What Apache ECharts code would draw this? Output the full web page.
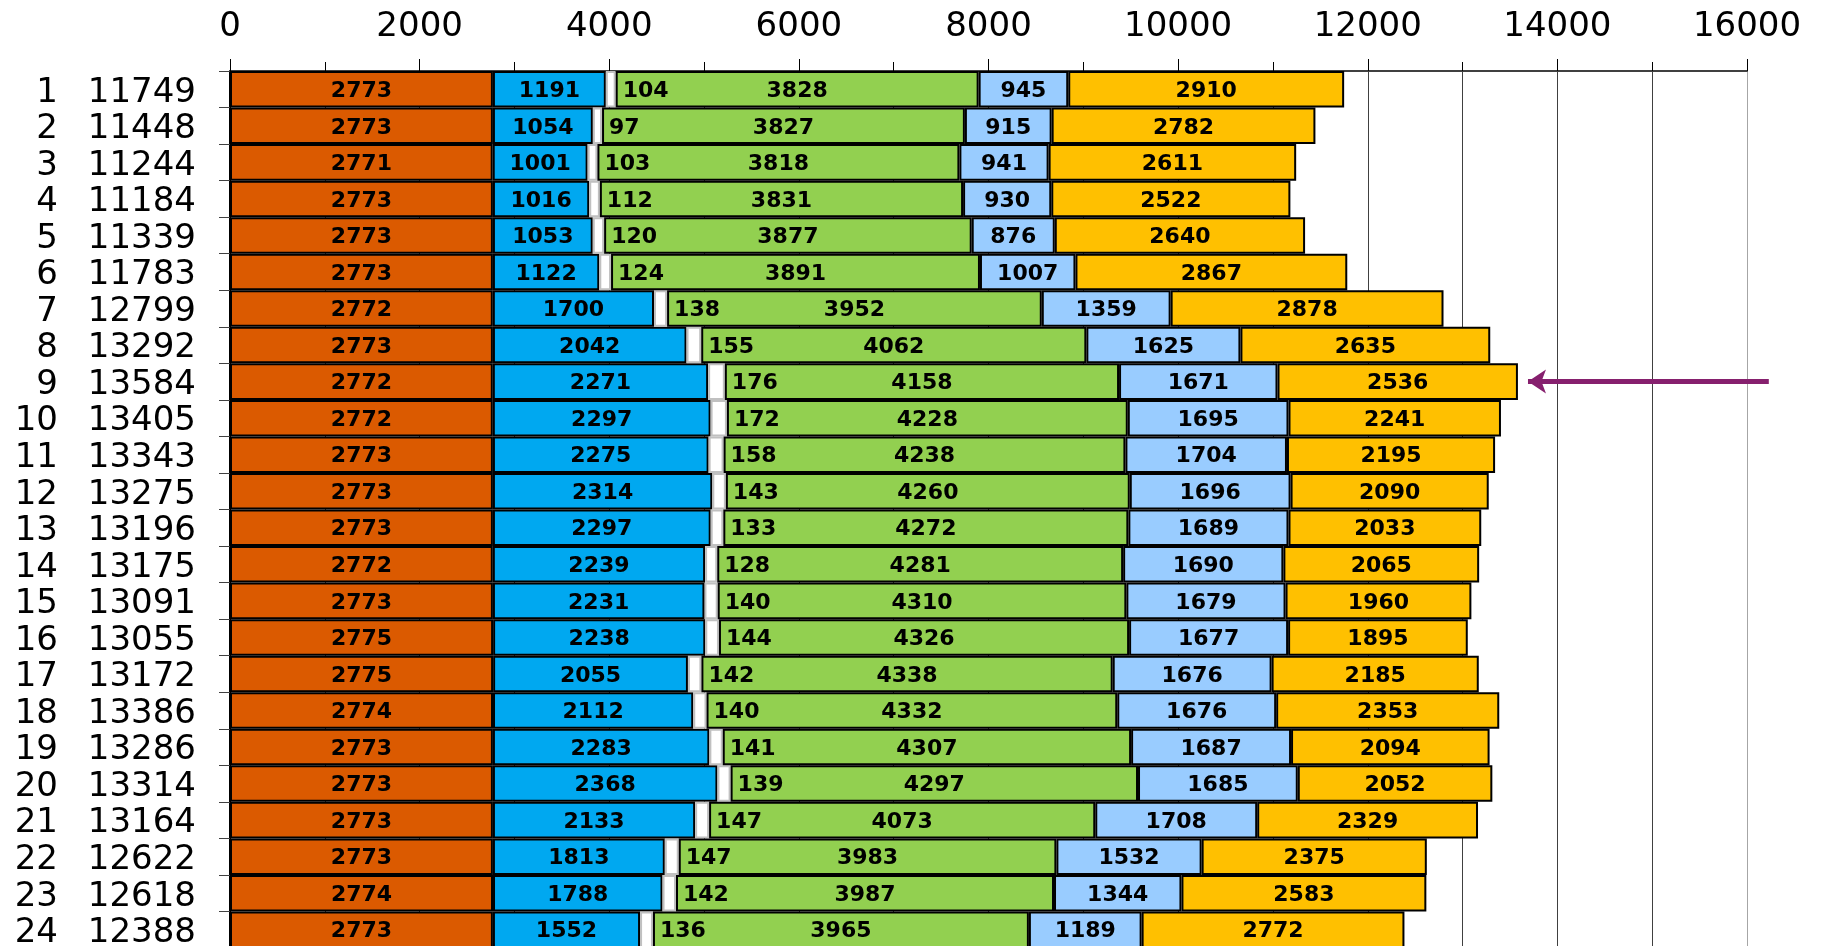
<!DOCTYPE html>
<html>
<head>
<meta charset="utf-8">
<script src="https://cdn.jsdelivr.net/npm/echarts@6/dist/echarts.min.js"></script>
<style>
  html, body { margin: 0; padding: 0; background: #fff; }
  #main { width: 1823px; height: 946px; }
</style>
</head>
<body>
<div id="main"></div>
<script>
// 各行のデータ
var rowNo = ['1','2','3','4','5','6','7','8','9','10','11','12','13','14','15','16','17','18','19','20','21','22','23','24']
var totals = [11749,11448,11244,11184,11339,11783,12799,13292,13584,13405,13343,13275,13196,13175,13091,13055,13172,13386,13286,13314,13164,12622,12618,12388]
var partA = [2773,2773,2771,2773,2773,2773,2772,2773,2772,2772,2773,2773,2773,2772,2773,2775,2775,2774,2773,2773,2773,2773,2774,2773]
var partB = [1191,1054,1001,1016,1053,1122,1700,2042,2271,2297,2275,2314,2297,2239,2231,2238,2055,2112,2283,2368,2133,1813,1788,1552]
var partC = [104,97,103,112,120,124,138,155,176,172,158,143,133,128,140,144,142,140,141,139,147,147,142,136]
var partD = [3828,3827,3818,3831,3877,3891,3952,4062,4158,4228,4238,4260,4272,4281,4310,4326,4338,4332,4307,4297,4073,3983,3987,3965]
var partE = [945,915,941,930,876,1007,1359,1625,1671,1695,1704,1696,1689,1690,1679,1677,1676,1676,1687,1685,1708,1532,1344,1189]
var partF = [2910,2782,2611,2522,2640,2867,2878,2635,2536,2241,2195,2090,2033,2065,1960,1895,2185,2353,2094,2052,2329,2375,2583,2772]
var xTicks = [0,2000,4000,6000,8000,10000,12000,14000,16000]
// 矢印 (9行目)
var arrowRow = 8
var arrowFrom = 16230
var arrowTo = 13690

var categories = rowNo.map(function (n, i) { return n + '|' + totals[i] })

var myChart = echarts.init(document.getElementById('main'))

var labelFont = {
  show: true,
  color: '#000',
  fontFamily: 'DejaVu Sans',
  fontWeight: 'bold',
  fontSize: 22,
  offset: [0, 2]
}

function barSeries (name, data, color, extra) {
  var s = {
    name: name,
    type: 'bar',
    stack: 'all',
    barCategoryGap: '0%',
    data: data,
    itemStyle: { color: color, borderColor: '#000', borderWidth: 2 },
    label: Object.assign({ position: 'inside' }, labelFont)
  }
  return Object.assign(s, extra || {})
}

var option
option = {
  animation: false,
  backgroundColor: '#fff',
  grid: {
    left: 230,
    top: 71,
    width: 1517,
    height: 877,
    outerBoundsMode: 'none'
  },
  xAxis: {
    type: 'value',
    position: 'top',
    min: xTicks[0],
    max: xTicks[xTicks.length - 1],
    interval: 2000,
    axisLine: { show: true, lineStyle: { color: '#404040', width: 2 } },
    axisTick: { show: true, length: 12, lineStyle: { color: '#000', width: 1 } },
    minorTick: { show: true, splitNumber: 2, length: 9, lineStyle: { color: '#000', width: 1 } },
    axisLabel: {
      color: '#000',
      fontFamily: 'DejaVu Sans',
      fontSize: 34,
      margin: 27,
      formatter: function (v) { return String(v) }
    },
    splitLine: {
      show: true,
      lineStyle: { color: ['#404040','#404040','#404040','#404040','#404040','#404040','#404040','#404040','#a6a6a6'], width: 1 }
    },
    minorSplitLine: { show: true, lineStyle: { color: '#404040', width: 1 } }
  },
  yAxis: {
    type: 'category',
    inverse: true,
    data: categories,
    axisLine: { show: true, lineStyle: { color: '#000', width: 2 } },
    axisTick: { show: true, length: 11, lineStyle: { color: '#404040', width: 1 } },
    axisLabel: {
      margin: 34,
      formatter: function (v) {
        var p = v.split('|')
        return '{n|' + p[0] + '}{t|' + p[1] + '}'
      },
      rich: {
        n: { width: 50, align: 'right', color: '#000', fontFamily: 'DejaVu Sans', fontSize: 34, padding: [7, 0, 0, 0] },
        t: { width: 138, align: 'right', color: '#000', fontFamily: 'DejaVu Sans', fontSize: 34, padding: [7, 0, 0, 0] }
      }
    }
  },
  series: [
    barSeries('A', partA, '#DB5A00'),
    barSeries('B', partB, '#00A8F0'),
    barSeries('C', partC, '#fff', {
      itemStyle: { color: '#fff', borderColor: '#c0c0c0', borderWidth: 2 },
      label: Object.assign({ position: 'right', distance: 7 }, labelFont)
    }),
    barSeries('D', partD, '#92D050'),
    barSeries('E', partE, '#99CCFF'),
    barSeries('F', partF, '#FFC000'),
    {
      // 矢印
      type: 'lines',
      coordinateSystem: 'cartesian2d',
      clip: false,
      silent: true,
      z: 10,
      symbol: ['none', 'arrow'],
      symbolSize: 18,
      lineStyle: { color: '#86206E', width: 5, opacity: 1, curveness: 0 },
      data: [{ coords: [[arrowFrom, arrowRow], [arrowTo, arrowRow]] }]
    }
  ]
}
myChart.setOption(option)
</script>
</body>
</html>
